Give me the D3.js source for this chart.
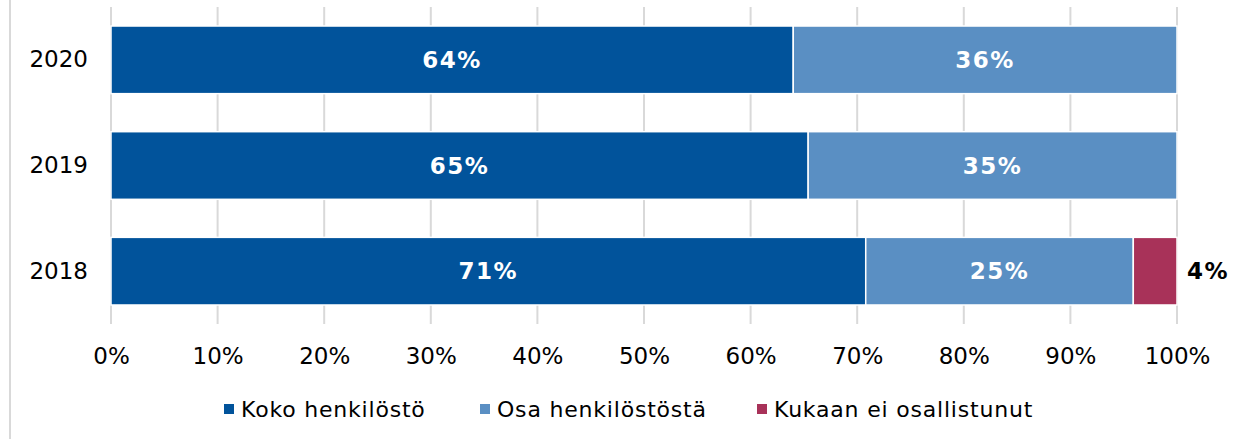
<!DOCTYPE html>
<html>
<head>
  <meta charset="utf-8">
  <title>stacked-bar</title>
  <style>
    * { padding: 0; margin: 0; }
    body { background: #fff; }
    svg text { font-family: Verdana, "DejaVu Sans", sans-serif; }
  </style>
</head>
<body>
  <svg id="svg"></svg>
  <script src="https://cdnjs.cloudflare.com/ajax/libs/d3/7.8.5/d3.min.js"></script>
  <script>
    // data
    const years = ['2020', '2019', '2018'];
    const seriesNames = ['Koko henkilöstö', 'Osa henkilöstöstä', 'Kukaan ei osallistunut'];
    const koko = [64, 65.4, 70.8];
    const osa = [36, 34.6, 25.1];
    const kukaan = [0, 0, 4.1];
    const ticks = [0, 10, 20, 30, 40, 50, 60, 70, 80, 90, 100];
    const colors = ['#01539b', '#5a8fc3', '#a83259'];

    const dimension = {
      width: 1234,
      height: 439,
      margin: { top: 7, right: 57, bottom: 115, left: 111 }
    };

    const svg = d3.select('#svg').attr('width', dimension.width).attr('height', dimension.height);

    // frame line on left
    svg.append('line')
      .attr('x1', 10).attr('x2', 10).attr('y1', 0).attr('y2', dimension.height)
      .attr('stroke', '#d9d9d9').attr('stroke-width', 2);

    const xScale = d3.scaleLinear()
      .domain([0, 100])
      .range([dimension.margin.left, dimension.width - dimension.margin.right]);

    const yScale = d3.scaleBand()
      .domain(years)
      .range([dimension.margin.top, dimension.height - dimension.margin.bottom])
      .paddingInner(0.36)
      .paddingOuter(0.18);

    const plotBottom = dimension.height - dimension.margin.bottom;

    // gridlines
    svg.append('g')
      .selectAll('line')
      .data(ticks)
      .enter()
      .append('line')
      .attr('x1', d => xScale(d)).attr('x2', d => xScale(d))
      .attr('y1', dimension.margin.top).attr('y2', plotBottom)
      .attr('stroke', '#d9d9d9').attr('stroke-width', 2);

    // x axis
    const xAxis = d3.axisBottom(xScale).tickValues(ticks).tickFormat(d => d + '%').tickSize(0).tickPadding(24);
    const gx = svg.append('g')
      .attr('transform', `translate(0, ${plotBottom})`)
      .call(xAxis);
    gx.select('.domain').remove();
    gx.selectAll('text').attr('font-size', 23).attr('fill', '#000')
      .style('font-family', 'Verdana, "DejaVu Sans", sans-serif');

    // y axis
    const yAxis = d3.axisLeft(yScale).tickSize(0).tickPadding(23);
    const gy = svg.append('g')
      .attr('transform', `translate(${dimension.margin.left}, 0)`)
      .call(yAxis);
    gy.select('.domain').remove();
    gy.selectAll('text').attr('font-size', 23).attr('fill', '#000')
      .style('font-family', 'Verdana, "DejaVu Sans", sans-serif');

    // stack
    const table = years.map((y, i) => ({ year: y, s0: koko[i], s1: osa[i], s2: kukaan[i] }));
    const stack = d3.stack().keys(['s0', 's1', 's2'])(table);

    const layers = svg.append('g')
      .selectAll('g')
      .data(stack)
      .enter()
      .append('g')
      .attr('fill', (d, i) => colors[i]);

    layers.selectAll('rect')
      .data(d => d.filter(p => p[1] - p[0] > 0))
      .enter()
      .append('rect')
      .attr('x', d => xScale(d[0]))
      .attr('y', d => yScale(d.data.year))
      .attr('width', d => xScale(d[1]) - xScale(d[0]))
      .attr('height', yScale.bandwidth())
      .attr('stroke', '#fff')
      .attr('stroke-width', 1.5);

    // labels
    layers.each(function (layer, li) {
      d3.select(this).selectAll('text')
        .data(layer.filter(p => p[1] - p[0] > 0))
        .enter()
        .append('text')
        .attr('x', d => li === 2 ? xScale(d[1]) + 10 : (xScale(d[0]) + xScale(d[1])) / 2)
        .attr('y', d => yScale(d.data.year) + yScale.bandwidth() / 2)
        .attr('dy', '0.36em')
        .attr('text-anchor', li === 2 ? 'start' : 'middle')
        .attr('font-size', 23)
        .attr('font-weight', 'bold')
        .attr('letter-spacing', 1.5)
        .attr('fill', li === 2 ? '#000' : '#fff')
        .text(d => Math.round(d[1] - d[0]) + '%');
    });

    // legend
    const legendX = [224, 480, 757];
    const legend = svg.append('g')
      .selectAll('g')
      .data(seriesNames)
      .enter()
      .append('g')
      .attr('transform', (d, i) => `translate(${legendX[i]}, 409)`);
    legend.append('rect')
      .attr('x', 0).attr('y', -5).attr('width', 10).attr('height', 10)
      .attr('fill', (d, i) => colors[i]);
    legend.append('text')
      .attr('x', 17).attr('y', 0).attr('dy', '0.36em')
      .attr('font-size', 22)
      .attr('letter-spacing', 0.8)
      .attr('fill', '#000')
      .text(d => d);
  </script>
</body>
</html>
